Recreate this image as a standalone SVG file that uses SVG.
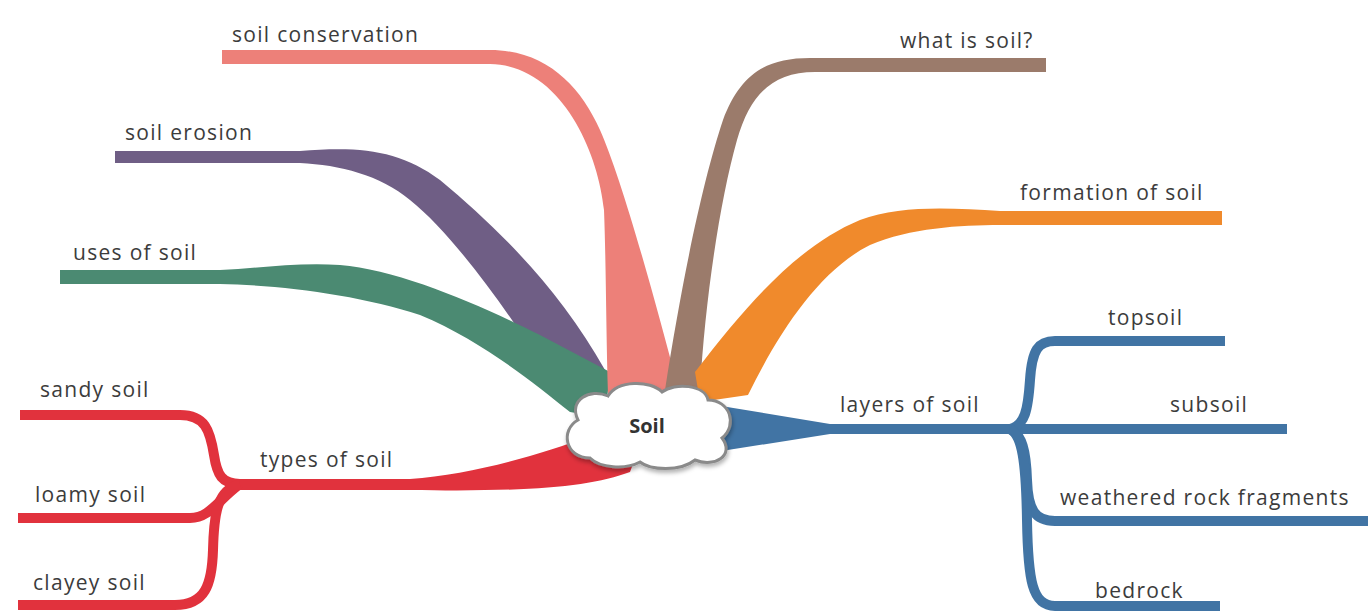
<svg xmlns="http://www.w3.org/2000/svg" width="1368" height="615" viewBox="0 0 1368 615">
<style>
.t{font-family:"Open Sans","Liberation Sans",sans-serif;font-size:21px;letter-spacing:1.3px;fill:#3c3c3c}
.sub{fill:none;stroke-width:10;stroke-linecap:butt;stroke-linejoin:round}
.red{stroke:#E1323D}
.blue{stroke:#4174A4}
</style>
<defs>
  <filter id="sh" x="-10%" y="-10%" width="130%" height="140%">
    <feDropShadow dx="1" dy="3" stdDeviation="2" flood-color="#000" flood-opacity="0.3"/>
  </filter>
</defs>
<rect width="1368" height="615" fill="#ffffff"/>
<g id="connectors">
  <path id="b-erosion" fill="#6F5E85" d="M115,151 L300,151 C360,146 400,150 440,180 C500,230 560,290 605,370 L590,400 L560,392 C520,330 460,240 410,200 C380,175 340,165 300,163 L115,163 Z"/>
  <path id="b-uses" fill="#4B8A72" d="M60,270 L220,270 C260,268 300,262 340,265 C400,270 480,305 540,335 L610,372 L605,418 L570,412 C530,380 480,340 420,315 C360,295 280,285 220,284 L60,284 Z"/>
  <path id="b-conservation" fill="#ED8079" d="M222,50 L490,50 C545,50 580,85 600,130 C620,175 650,280 680,395 L608,395 C606,330 606,260 604,210 C598,150 560,65 490,64 L222,64 Z"/>
  <path id="b-what" fill="#9B7B6B" d="M1046,58 L810,58 C765,58 740,75 723,120 C703,180 682,280 665,390 L700,390 C705,300 720,200 737,140 C750,95 772,72 815,72 L1046,72 Z"/>
  <path id="b-formation" fill="#F08A2C" d="M1222,211 L1000,211 C950,208 900,205 860,220 C800,245 750,300 695,372 L700,402 L748,395 C780,330 820,270 870,245 C910,228 960,225 1000,225 L1222,225 Z"/>
  <path id="b-types" fill="#E1323D" d="M230,479 L410,479 C470,475 540,455 590,436 L640,445 L630,472 C590,487 530,492 410,490 L230,490 Z"/>
  <path class="sub red" d="M20,415 L180,415 C205,415 210,430 214,455 C217,475 222,484 240,484"/>
  <path class="sub red" d="M18,518 L190,518 C210,518 218,500 240,484"/>
  <path class="sub red" d="M18,605 L175,605 C205,605 212,585 213,550 C214,510 218,490 240,484"/>
  <path id="b-layers" fill="#4174A4" d="M715,405 L830,424 L1012,424 L1012,434 L830,434 L715,452 Z"/>
  <path class="sub blue" d="M1000,429 L1287,429"/>
  <path class="sub blue" d="M1010,429 C1025,425 1028,410 1030,380 C1032,350 1038,341 1055,341 L1225,341"/>
  <path class="sub blue" d="M1010,429 C1022,435 1026,450 1027,480 C1028,510 1035,521 1055,521 L1368,521"/>
  <path class="sub blue" d="M1010,429 C1022,435 1026,460 1027,520 C1028,580 1032,606 1055,606 L1220,606"/>
</g>
<g id="node-soil">
  <path filter="url(#sh)" d="M590,458 C565,458 560,430 578,420 C568,400 590,388 608,396 C618,380 650,380 662,392 C675,382 705,385 708,400 C730,400 738,425 722,438 C735,455 715,468 695,460 C680,472 650,470 640,462 C625,470 600,468 590,458 Z" fill="#ffffff" stroke="#8a8a8a" stroke-width="3"/>
  <text x="647" y="433" text-anchor="middle" font-family="Open Sans, Liberation Sans, sans-serif" font-size="20" font-weight="bold" fill="#333333">Soil</text>
</g>
<g id="node-conservation"><text class="t" x="232" y="42">soil conservation</text></g>
<g id="node-erosion"><text class="t" x="125" y="140">soil erosion</text></g>
<g id="node-uses"><text class="t" x="73" y="260">uses of soil</text></g>
<g id="node-what"><text class="t" x="900" y="48">what is soil?</text></g>
<g id="node-formation"><text class="t" x="1020" y="200">formation of soil</text></g>
<g id="node-types"><text class="t" x="260" y="467">types of soil</text></g>
<g id="node-sandy"><text class="t" x="40" y="397">sandy soil</text></g>
<g id="node-loamy"><text class="t" x="35" y="502">loamy soil</text></g>
<g id="node-clayey"><text class="t" x="33" y="590">clayey soil</text></g>
<g id="node-layers"><text class="t" x="840" y="412">layers of soil</text></g>
<g id="node-topsoil"><text class="t" x="1108" y="325">topsoil</text></g>
<g id="node-subsoil"><text class="t" x="1170" y="412">subsoil</text></g>
<g id="node-weathered"><text class="t" x="1060" y="505">weathered rock fragments</text></g>
<g id="node-bedrock"><text class="t" x="1095" y="598">bedrock</text></g>
</svg>
